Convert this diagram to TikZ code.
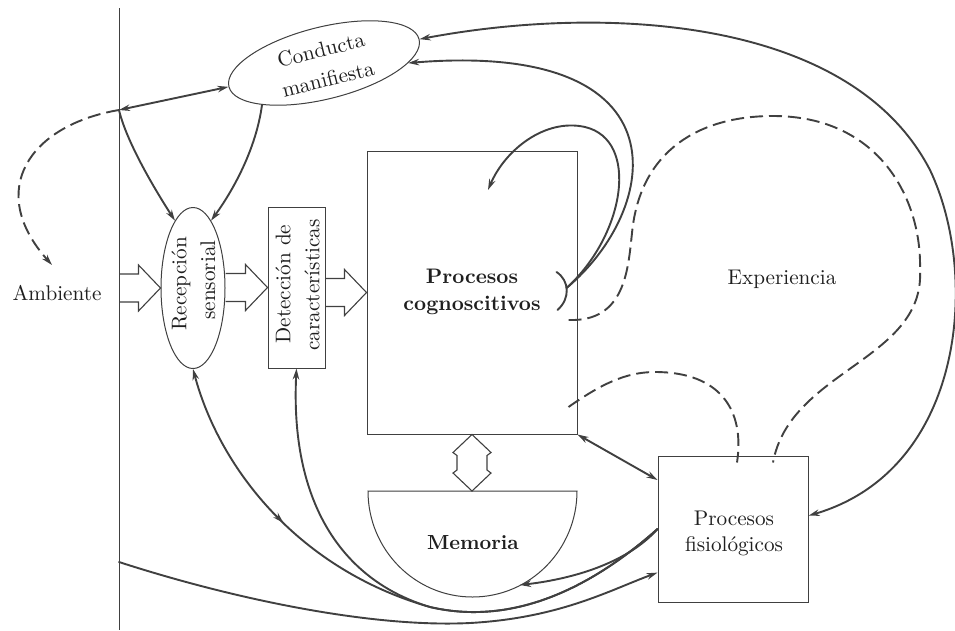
\documentclass[tikz,border=0pt]{standalone}
\usepackage{fontspec}
\usetikzlibrary{arrows.meta,shapes.geometric,calc,decorations.markings}
\definecolor{ink}{gray}{0.25}
\definecolor{txt}{gray}{0.12}
\tikzset{
  shapeline/.style={draw=ink, line width=1pt},
  conn/.style={color=ink, line width=1.9pt, line cap=round},
  tipA/.tip={Stealth[length=11pt,width=6.5pt]},
  dashconn/.style={draw=ink, line width=1.9pt, dash pattern=on 13pt off 6pt},
  lbl/.style={text=txt, font=\fontsize{10}{12}\selectfont, scale=2.12, inner sep=0pt},
  blbl/.style={text=txt, font=\fontsize{10}{12}\selectfont\bfseries, scale=2.1, inner sep=0pt},
  hollowarrow/.style={draw=ink, line width=1.1pt, line join=miter},
  midarrow/.style={postaction={decorate}, decoration={markings, mark=at position #1 with {\arrow{tipA}}}}
}
\newcommand\hollowarr[2]{\draw[hollowarrow] let \p1=(#1), \p2=(#2) in
  (\x1,\y2+14pt) -- (\x2-22pt,\y2+14pt) -- (\x2-22pt,\y2+23pt) -- (\x2,\y2)
  -- (\x2-22pt,\y2-23pt) -- (\x2-22pt,\y2-14pt) -- (\x1,\y2-14pt);}
\begin{document}
\begin{tikzpicture}[x=1pt,y=1pt]
\fill[white] (0,0) rectangle (955,-630);
\useasboundingbox (0,0) rectangle (955,-630);

% vertical boundary
\coordinate (vtop) at (119,-8);
\coordinate (vbot) at (119,-630);
\draw[shapeline] (vtop) -- (vbot);
\coordinate (v1) at (119,-110);
\coordinate (v2) at (119,-562);
\coordinate (v3) at (119,-288);
\coordinate (ambtip) at (52,-265);

% nodes
\node[shapeline, ellipse, minimum width=196pt, minimum height=72pt, rotate=14, inner sep=0pt] (cond) at (324,-63) {};
\node[lbl, rotate=14] (condt1) at (321,-50) {Conducta};
\node[lbl, rotate=14] (condt2) at (328,-79) {manifiesta};

\node[shapeline, ellipse, minimum width=64pt, minimum height=161pt, inner sep=0pt] (rec) at (193,-288) {};
\node[lbl, rotate=90] (rect1) at (181,-284) {Recepción};
\node[lbl, rotate=90] (rect2) at (208,-280) {sensorial};

\node[shapeline, rectangle, minimum width=57pt, minimum height=161pt, inner sep=0pt] (det) at (296.5,-287.5) {};
\node[lbl, rotate=90] (dett1) at (283,-284) {Detección de};
\node[lbl, rotate=90] (dett2) at (312,-285) {características};

\node[shapeline, rectangle, minimum width=210pt, minimum height=283pt, inner sep=0pt] (pc) at (472,-292.5) {};
\node[blbl] (pct1) at (472,-276) {Procesos};
\node[blbl] (pct2) at (472,-305) {cognoscitivos};

\node[shapeline, rectangle, minimum width=150pt, minimum height=146pt, inner sep=0pt] (fis) at (733,-529) {};
\node[lbl] (fist1) at (734,-518) {Procesos};
\node[lbl] (fist2) at (734,-546) {fisiológicos};

\node[lbl] (amb) at (57,-293) {Ambiente};
\node[lbl] (exp) at (782,-279) {Experiencia};

% Memoria half ellipse
\coordinate (memtop) at (472.5,-491);
\coordinate (memR) at (520,-585);
\draw[shapeline] (368,-491) -- (577,-491) arc[start angle=0, end angle=-180, x radius=104.5pt, y radius=106pt] -- cycle;
\node[blbl, scale=0.97] (mem) at (473,-543) {Memoria};

% hollow arrows
\hollowarr{v3}{rec.west}
\hollowarr{rec.east}{det.west}
\hollowarr{det.east}{pc.west}
\draw[hollowarrow] let \p1=(pc.south), \p2=(memtop) in
  (\x1,\y1) -- (\x1-19pt,\y1-18pt) -- (\x1-15pt,\y1-21pt) -- (\x1-15pt,\y2+21pt)
  -- (\x1-19pt,\y2+18pt) -- (\x1,\y2) -- (\x1+19pt,\y2+18pt) -- (\x1+15pt,\y2+21pt)
  -- (\x1+15pt,\y1-21pt) -- (\x1+19pt,\y1-18pt) -- cycle;

% connectors
\draw[conn, tipA-tipA] (cond.west) -- (v1);
\draw[dashconn, -tipA] (v1) .. controls (30,-125) and (-15,-190) .. (ambtip);
\draw[conn, -tipA] (v1) .. controls (126,-140) and (152,-185) .. (rec.105);
\draw[conn, -tipA] (cond.200) .. controls (256,-150) and (232,-192) .. (rec.75);

\draw[conn, tipA-tipA] (cond.east) .. controls (600,-5) and (850,-15) .. (930,-170)
   .. controls (980,-275) and (965,-470) .. (fis.10);

\coordinate (jn) at ($(pc.east)+(-11,4.5)$);
\coordinate (pcin) at (488,-190);
\draw[conn] ($(pc.east)+(-21,20.5)$) .. controls ($(pc.east)+(-8,12)$) and ($(pc.east)+(-7,-6)$) .. ($(pc.east)+(-20,-17.5)$);
\draw[conn, -tipA] (jn) .. controls (660,-210) and (690,-40) .. (cond.-14);
\draw[conn, -tipA] (jn) .. controls (625,-235) and (640,-140) .. (585,-127)
   .. controls (545,-118) and (505,-150) .. (pcin);

\coordinate (d1s) at ($(pc.east)+(-9,-27.5)$);
\coordinate (d2s) at ($(pc.east)+(-9,-114.5)$);
\coordinate (d1e) at ($(fis.north)+(40,-7)$);
\coordinate (d2e) at ($(fis.north)+(4,-7)$);
\draw[dashconn] (d1s) .. controls (625,-322) and (628,-270) .. (632,-233)
   .. controls (640,-150) and (700,-116) .. (773,-116)
   .. controls (880,-116) and (922,-200) .. (920,-270)
   .. controls (925,-360) and (790,-370) .. (d1e);
\draw[dashconn] (d2s) .. controls (600,-385) and (625,-372) .. (655,-372)
   .. controls (720,-372) and (745,-410) .. (d2e);

\draw[conn, tipA-tipA] (pc.south east) -- (fis.147);

\draw[conn, -tipA] (fis.west) .. controls (630,-560) and (580,-578) .. (memR);
\draw[conn, tipA-, midarrow=0.3] (rec.south) .. controls (220,-470) and (300,-570) .. (430,-607)
   .. controls (520,-628) and (600,-580) .. (fis.west);
\draw[conn, tipA-] (det.south) .. controls (290,-500) and (340,-580) .. (430,-607)
   .. controls (520,-628) and (600,-580) .. (fis.west);
\draw[conn, -tipA] (v2) .. controls (230,-598) and (370,-628) .. (470,-623)
   .. controls (560,-618) and (610,-590) .. (fis.210);
\end{tikzpicture}
\end{document}
